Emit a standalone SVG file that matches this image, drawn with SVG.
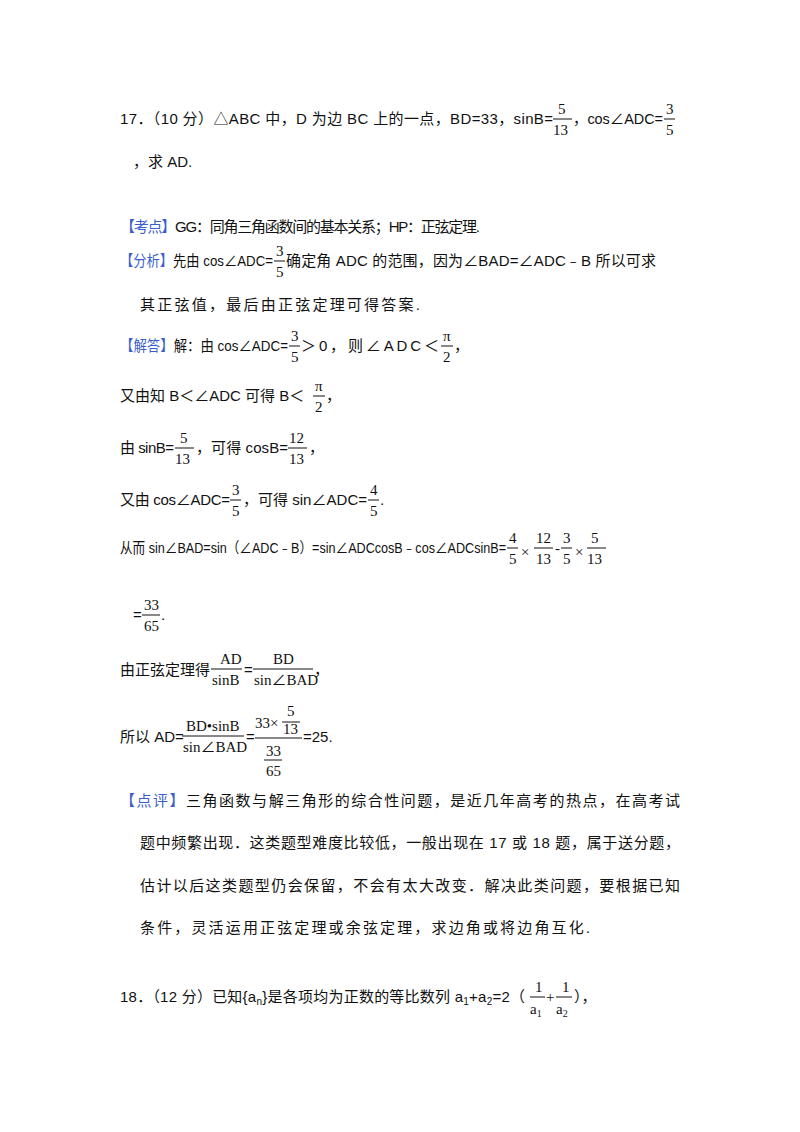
<svg xmlns="http://www.w3.org/2000/svg" width="800" height="1132" viewBox="0 0 800 1132">
<style>
text{font-family:"Liberation Sans","Noto Sans CJK SC",sans-serif;font-size:15px;fill:#111}
.b{fill:#3a5fcd}
.m{font-family:"Liberation Serif","Noto Sans CJK SC",serif;font-size:15px}
.s{font-size:10px}
line{stroke:#111;stroke-width:1}
</style>
<rect width="800" height="1132" fill="#fff"/>
<g id="q17">
<text x="120" y="124" textLength="433" lengthAdjust="spacing">17．（10 分）△ABC 中，D 为边 BC 上的一点，BD=33，sinB=</text>
<text x="558" y="114" class="m">5</text><line x1="553" y1="119" x2="572" y2="119"/><text x="553" y="135" class="m">13</text>
<text x="573" y="124" textLength="90" lengthAdjust="spacingAndGlyphs">，cos∠ADC=</text>
<text x="666" y="114" class="m">3</text><line x1="664" y1="119" x2="675" y2="119"/><text x="666" y="135" class="m">5</text>
<text x="133" y="167">，求 AD.</text>
</g>
<g id="kaodian">
<text x="120" y="232" textLength="360" lengthAdjust="spacing"><tspan class="b">【考点】</tspan>GG：同角三角函数间的基本关系；HP：正弦定理.</text>
</g>
<g id="fenxi">
<text x="120" y="266" textLength="153" lengthAdjust="spacingAndGlyphs"><tspan class="b">【分析】</tspan>先由 cos∠ADC=</text>
<text x="276" y="256" class="m">3</text><line x1="274" y1="261" x2="285" y2="261"/><text x="276" y="277" class="m">5</text>
<text x="286" y="266" textLength="370" lengthAdjust="spacing">确定角 ADC 的范围，因为∠BAD=∠ADC﹣B 所以可求</text>
<text x="140" y="310" textLength="280" lengthAdjust="spacing">其正弦值，最后由正弦定理可得答案.</text>
</g>
<g id="jieda">
<text x="120" y="351" textLength="168" lengthAdjust="spacingAndGlyphs"><tspan class="b">【解答】</tspan>解：由 cos∠ADC=</text>
<text x="291" y="341" class="m">3</text><line x1="289" y1="346" x2="300" y2="346"/><text x="291" y="362" class="m">5</text>
<text x="301" y="351" textLength="138" lengthAdjust="spacing">＞0，则∠ADC＜</text>
<text x="443" y="341" class="m">π</text><line x1="441" y1="346" x2="453" y2="346"/><text x="443" y="362" class="m">2</text>
<text x="454" y="351">，</text>
<text x="120" y="401">又由知 B＜∠ADC 可得 B＜</text>
<text x="315" y="391" class="m">π</text><line x1="313" y1="396" x2="325" y2="396"/><text x="315" y="412" class="m">2</text>
<text x="326" y="401">，</text>
<text x="120" y="453" textLength="54" lengthAdjust="spacing">由 sinB=</text>
<text x="180" y="443" class="m">5</text><line x1="175" y1="448" x2="194" y2="448"/><text x="175" y="464" class="m">13</text>
<text x="196" y="453" textLength="92" lengthAdjust="spacing">，可得 cosB=</text>
<text x="289" y="443" class="m">12</text><line x1="288" y1="448" x2="307" y2="448"/><text x="289" y="464" class="m">13</text>
<text x="309" y="453">，</text>
<text x="120" y="505" textLength="110" lengthAdjust="spacing">又由 cos∠ADC=</text>
<text x="232" y="495" class="m">3</text><line x1="230" y1="500" x2="241" y2="500"/><text x="232" y="516" class="m">5</text>
<text x="243" y="505" textLength="124" lengthAdjust="spacing">，可得 sin∠ADC=</text>
<text x="370" y="495" class="m">4</text><line x1="368" y1="500" x2="379" y2="500"/><text x="370" y="516" class="m">5</text>
<text x="380" y="505">.</text>
<text x="120" y="553" textLength="386" lengthAdjust="spacingAndGlyphs">从而 sin∠BAD=sin（∠ADC﹣B）=sin∠ADCcosB﹣cos∠ADCsinB=</text>
<text x="509" y="543" class="m">4</text><line x1="507" y1="548" x2="518" y2="548"/><text x="509" y="564" class="m">5</text>
<text x="521" y="557" class="m">×</text>
<text x="536" y="543" class="m">12</text><line x1="534" y1="548" x2="553" y2="548"/><text x="536" y="564" class="m">13</text>
<text x="555" y="553" class="m">-</text>
<text x="563" y="543" class="m">3</text><line x1="561" y1="548" x2="572" y2="548"/><text x="563" y="564" class="m">5</text>
<text x="575" y="557" class="m">×</text>
<text x="591" y="543" class="m">5</text><line x1="587" y1="548" x2="606" y2="548"/><text x="587" y="564" class="m">13</text>
<text x="133" y="620">=</text>
<text x="144" y="610" class="m">33</text><line x1="142" y1="615" x2="160" y2="615"/><text x="144" y="631" class="m">65</text>
<text x="161" y="620">.</text>
<text x="120" y="675">由正弦定理得</text>
<text x="220" y="664" class="m">AD</text><line x1="211" y1="669" x2="242" y2="669"/><text x="212" y="685" class="m">sinB</text>
<text x="244" y="675">=</text>
<text x="273" y="664" class="m">BD</text><line x1="253" y1="669" x2="313" y2="669"/><text x="254" y="685" class="m">sin∠BAD</text>
<text x="314" y="675">，</text>
<text x="120" y="742">所以 AD=</text>
<text x="186" y="731" class="m">BD•sinB</text><line x1="182" y1="736" x2="244" y2="736"/><text x="183" y="752" class="m">sin∠BAD</text>
<text x="246" y="742">=</text>
<text x="255" y="728" class="m">33×</text><line x1="282" y1="722" x2="300" y2="722"/>
<text x="287" y="716" class="m">5</text><text x="283" y="734" class="m">13</text>
<line x1="255" y1="738" x2="302" y2="738"/>
<text x="266" y="756" class="m">33</text><line x1="264" y1="760" x2="282" y2="760"/><text x="266" y="776" class="m">65</text>
<text x="303" y="742">=25.</text>
</g>
<g id="dianping">
<text x="120" y="806" textLength="560" lengthAdjust="spacing"><tspan class="b">【点评】</tspan>三角函数与解三角形的综合性问题，是近几年高考的热点，在高考试</text>
<text x="140" y="848" textLength="540" lengthAdjust="spacing">题中频繁出现．这类题型难度比较低，一般出现在 17 或 18 题，属于送分题，</text>
<text x="140" y="891" textLength="540" lengthAdjust="spacing">估计以后这类题型仍会保留，不会有太大改变．解决此类问题，要根据已知</text>
<text x="140" y="933" textLength="450" lengthAdjust="spacing">条件，灵活运用正弦定理或余弦定理，求边角或将边角互化.</text>
</g>
<g id="q18">
<text x="120" y="1002" textLength="405">18．（12 分）已知{a<tspan class="s" dy="3">n</tspan><tspan dy="-3">}是各项均为正数的等比数列 a</tspan><tspan class="s" dy="3">1</tspan><tspan dy="-3">+a</tspan><tspan class="s" dy="3">2</tspan><tspan dy="-3">=2（</tspan></text>
<text x="535" y="992" class="m">1</text><line x1="530" y1="997" x2="545" y2="997"/><text x="530" y="1014" class="m">a<tspan class="s" dy="3">1</tspan></text>
<text x="546" y="1002" class="m">+</text>
<text x="562" y="992" class="m">1</text><line x1="556" y1="997" x2="572" y2="997"/><text x="556" y="1014" class="m">a<tspan class="s" dy="3">2</tspan></text>
<text x="574" y="1002">），</text>
</g>
</svg>
